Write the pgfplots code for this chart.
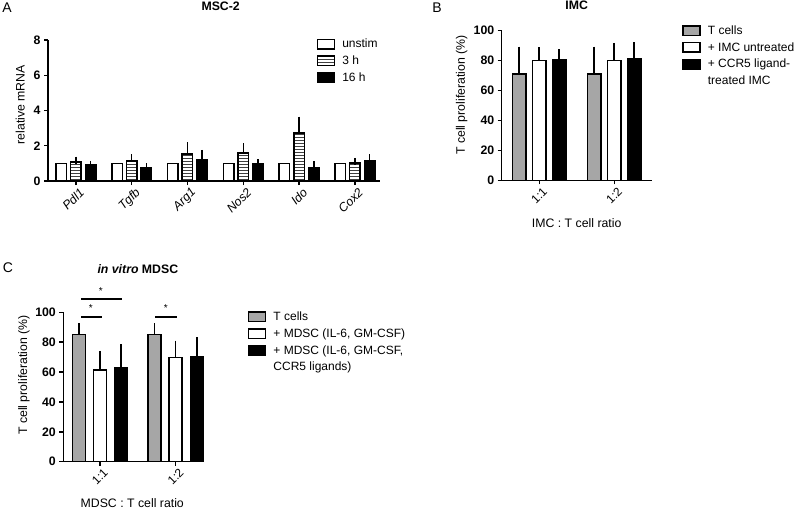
\documentclass[border=0pt]{standalone}
\usepackage{pgfplots}
\pgfplotsset{compat=1.18}
\usepackage{fontspec}
\setmainfont{Liberation Sans}
\usetikzlibrary{patterns}
\newcommand\lbl{\fontsize{12.3bp}{15bp}\selectfont}
\newcommand\lgd{\fontsize{12bp}{14.5bp}\selectfont}
\definecolor{pgrey}{HTML}{A6A6A6}
\pgfplotsset{
  prism/.style={
    scale only axis, anchor=south west, clip=false,
    axis x line*=bottom, axis y line*=left,
    axis line style={line width=1.4bp, -},
    tick style={line width=1.4bp, black},
    major tick length=4bp, tick align=outside,
    /pgf/number format/assume math mode=true,
    tick label style={font=\lbl},
    label style={font=\lbl},
    yticklabel style={font=\lbl\bfseries},
    title style={font=\lbl\bfseries, anchor=center},
    legend style={draw=none, fill=none, anchor=north west, font=\lgd,
      cells={anchor=west}, row sep=2.5bp,
      /tikz/every odd column/.style={column sep=5bp}},
    legend image code/.code={\draw[#1, line width=1.5bp] (0bp,-4.5bp) rectangle (17bp,5bp);},
  },
  ebars/.style={error bars/.cd, y dir=plus, y explicit,
      error bar style={line width=1.5bp, black},
      error mark options={line width=1.5bp, mark size=#1, black}},
}
\begin{document}
\begin{tikzpicture}[x=1bp,y=1bp]
\useasboundingbox (0,0) rectangle (796,-511);
\node[font=\fontsize{14bp}{16bp}\selectfont] at (7,-8) {A};
\node[font=\fontsize{14bp}{16bp}\selectfont] at (437,-8) {B};
\node[font=\fontsize{14bp}{16bp}\selectfont] at (8,-268) {C};

% ---------------- Panel A
\begin{axis}[prism, at={(48bp,-181bp)}, width=332bp, height=141bp,
  xmin=-0.5, xmax=5.45, ymin=0, ymax=8, ytick={0,2,4,6,8},
  xtick={0,1,2,3,4,5},
  xticklabels={Pdl1,Tgfb,Arg1,Nos2,Ido,Cox2},
  xticklabel style={rotate=45, anchor=north east, font=\lbl\itshape, xshift=4bp},
  ylabel={relative mRNA},
  ylabel style={font=\lbl, at={(axis description cs:-0.084,0.54)}, anchor=center},
  title={MSC-2}, title style={at={(axis description cs:0.52,1.2)}},
  legend style={at={(axis description cs:0.80,1.035)}},
]
\addplot[ybar, bar width=10.5bp, bar shift=0bp, fill=white, draw=black, line width=1.5bp]
  coordinates {(-0.263,1) (0.737,1) (1.737,1) (2.737,1) (3.737,1) (4.737,1)};
\addlegendentry{unstim}
\addplot[ybar, bar width=10.5bp, bar shift=0bp, pattern=horizontal lines, pattern color=black!75, draw=black, line width=1.5bp, ebars=3.5bp]
  coordinates {(0,1.07) +- (0,0.12) (1,1.14) +- (0,0.17) (2,1.52) +- (0,0.48)
               (3,1.60) +- (0,0.34) (4,2.73) +- (0,0.72) (5,1.03) +- (0,0.08)};
\addlegendentry{3 h}
\addplot[ybar, bar width=10.5bp, bar shift=0bp, fill=black, draw=black, line width=1.5bp, ebars=3.5bp]
  coordinates {(0.263,0.91) +- (0,0.03) (1.263,0.78) +- (0,0.03) (2.263,1.23) +- (0,0.34)
               (3.263,0.96) +- (0,0.08) (4.263,0.75) +- (0,0.17) (5.263,1.16) +- (0,0.15)};
\addlegendentry{16 h}
\end{axis}

% ---------------- Panel B
\begin{axis}[prism, at={(501.7bp,-180.3bp)}, width=150bp, height=149.6bp,
  xmin=-0.5, xmax=1.5, ymin=0, ymax=100, ytick={0,20,40,60,80,100},
  xtick={0,1}, xticklabels={1:1,1:2},
  xticklabel style={rotate=45, anchor=north east, font=\lgd, xshift=4bp},
  ylabel={T cell proliferation (\%)},
  ylabel style={font=\lbl, at={(axis description cs:-0.267,0.57)}, anchor=center},
  xlabel={IMC : T cell ratio},
  xlabel style={font=\lbl, at={(axis description cs:0.5,-0.283)}, anchor=center},
  title={IMC}, title style={at={(axis description cs:0.5,1.13)}},
  legend style={at={(axis description cs:1.183,1.06)}},
]
\addplot[ybar, bar width=13.5bp, bar shift=0bp, fill=pgrey, draw=black, line width=1.5bp, ebars=5bp]
  coordinates {(-0.267,71) +- (0,15) (0.733,71) +- (0,15)};
\addlegendentry{T cells}
\addplot[ybar, bar width=13.5bp, bar shift=0bp, fill=white, draw=black, line width=1.5bp, ebars=5bp]
  coordinates {(0,80) +- (0,5.5) (1,80) +- (0,8.5)};
\addlegendentry{+ IMC untreated}
\addplot[ybar, bar width=13.5bp, bar shift=0bp, fill=black, draw=black, line width=1.5bp, ebars=5bp]
  coordinates {(0.267,80.8) +- (0,3.6) (1.267,81.3) +- (0,7.6)};
\addlegendentry{+ CCR5 ligand-}
\addlegendimage{empty legend}
\addlegendentry{treated IMC}
\end{axis}

% ---------------- Panel C
\begin{axis}[prism, at={(63.3bp,-461.7bp)}, width=140.7bp, height=149.4bp,
  xmin=-0.485, xmax=1.374, ymin=0, ymax=100, ytick={0,20,40,60,80,100},
  xtick={0,1}, xticklabels={1:1,1:2},
  xticklabel style={rotate=45, anchor=north east, font=\lgd, xshift=4bp},
  ylabel={T cell proliferation (\%)},
  ylabel style={font=\lbl, at={(axis description cs:-0.279,0.58)}, anchor=center},
  xlabel={MDSC : T cell ratio},
  xlabel style={font=\lbl, at={(axis description cs:0.49,-0.276)}, anchor=center},
  title={\textit{in vitro} MDSC}, title style={at={(axis description cs:0.53,1.25)}},
  legend style={at={(axis description cs:1.29,1.03)}},
]
\addplot[ybar, bar width=13bp, bar shift=0bp, fill=pgrey, draw=black, line width=1.5bp, ebars=5bp]
  coordinates {(-0.28,85.3) +- (0,4) (0.72,85.3) +- (0,4)};
\addlegendentry{T cells}
\addplot[ybar, bar width=13bp, bar shift=0bp, fill=white, draw=black, line width=1.5bp, ebars=5bp]
  coordinates {(0,61.4) +- (0,9.4) (1,69.6) +- (0,8.1)};
\addlegendentry{+ MDSC (IL-6, GM-CSF)}
\addplot[ybar, bar width=13bp, bar shift=0bp, fill=black, draw=black, line width=1.5bp, ebars=5bp]
  coordinates {(0.28,62.7) +- (0,12.5) (1.28,70.1) +- (0,9.8)};
\addlegendentry{+ MDSC (IL-6, GM-CSF,}
\addlegendimage{empty legend}
\addlegendentry{CCR5 ligands)}
\addplot[black, line width=2bp, forget plot] coordinates {(-0.25,108.9) (0.295,108.9)};
\addplot[black, line width=2bp, forget plot] coordinates {(-0.25,97) (0.02,97)};
\addplot[black, line width=2bp, forget plot] coordinates {(0.727,97) (1.013,97)};
\node[font=\fontsize{10bp}{12bp}\selectfont] at (axis cs:0.01,114.5) {*};
\node[font=\fontsize{10bp}{12bp}\selectfont] at (axis cs:-0.12,102.6) {*};
\node[font=\fontsize{10bp}{12bp}\selectfont] at (axis cs:0.87,102.6) {*};
\end{axis}
\end{tikzpicture}
\end{document}
